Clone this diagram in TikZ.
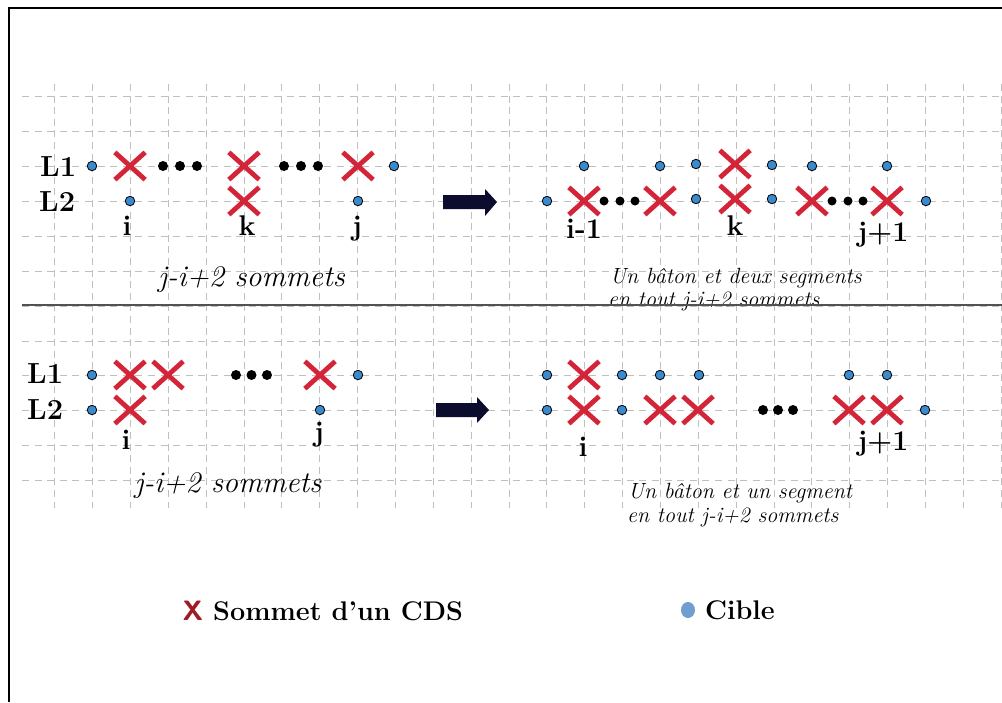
\documentclass[tikz,border=0pt]{standalone}
\usepackage{fontspec}
\usetikzlibrary{shapes.misc,shapes.geometric}
\definecolor{cdsred}{RGB}{212,36,56}
\definecolor{tblue}{RGB}{58,138,206}
\definecolor{legblue}{RGB}{112,158,208}
\definecolor{legred}{RGB}{160,28,34}
\definecolor{arrowblue}{RGB}{12,12,46}
\tikzset{
  gridh/.style={draw=black!25, line width=0.9pt, dash pattern=on 7pt off 5.6pt},
  gridv/.style={draw=black!25, line width=0.9pt, dash pattern=on 7pt off 4.6pt},
  cds/.style={cross out, draw=cdsred, line width=4.8pt, minimum width=25.5pt, minimum height=22.5pt, inner sep=0pt},
  target/.style={circle, draw=black, line width=0.8pt, fill=tblue, minimum size=9.5pt, inner sep=0pt},
  ell/.style={circle, fill=black, minimum size=10pt, inner sep=0pt},
  lab/.style={font=\fontsize{28.5}{34}\selectfont\bfseries, inner sep=0pt, anchor=base},
  rowlab/.style={font=\fontsize{29}{34}\selectfont\bfseries, inner sep=0pt, anchor=base west},
  note/.style={font=\fontsize{30}{36}\selectfont\itshape, inner sep=0pt, anchor=base},
  small/.style={font=\fontsize{22}{26}\selectfont\itshape, inner sep=0pt, anchor=base west},
  legtext/.style={font=\fontsize{27}{32}\selectfont\bfseries, inner sep=0pt, anchor=base west},
  bigarrow/.style={fill=arrowblue},
  frame/.style={draw=black, line width=1.5pt},
  sep/.style={draw=black!68, line width=2pt}
}
\begin{document}
\begin{tikzpicture}[x=1pt, y=-1pt]
\useasboundingbox (0,0) rectangle (1002,702);
\fill[white] (0,0) rectangle (1002,702);
% frame
\draw[frame] (9,702) -- (9,8) -- (1002,8);
% grid
\foreach \n in {0,...,25} \draw[gridv] ({54.7+37.86*\n},84) -- ({54.7+37.86*\n},508);
\foreach \k in {0,...,11} \draw[gridh] (22,{96.7+34.9*\k}) -- (1002,{96.7+34.9*\k});

% ===== top left =====
\node[rowlab] (L1a) at (40,176) {L1};
\node[rowlab] (L2a) at (39,211.5) {L2};
\foreach \x/\y [count=\c] in {92/166,394/166,130/201,358/201} \node[target] (tla\c) at (\x,\y) {};
\foreach \x/\y [count=\c] in {130/166,244/166,358/166,244/201} \node[cds] (xla\c) at (\x,\y) {};
\foreach \x [count=\c] in {163,180,197,284,301,318} \node[ell] (dla\c) at (\x,166) {};
\node[lab] (ia) at (127,235) {i};
\node[lab] (ka) at (247,235) {k};
\node[lab] (ja) at (357,235) {j};
\node[note] (na) at (251.5,286) {j-i+2 sommets};
\fill[bigarrow] (443,195) -- (485,195) -- (485,189) -- (497,202) -- (485,216) -- (485,209) -- (443,209) -- cycle;

% ===== top right =====
\foreach \x/\y [count=\c] in {584/166,660/166,696/164,772/165,812/166,887/166,547/201,696/199,772/199,926/201} \node[target] (tra\c) at (\x,\y) {};
\foreach \x/\y [count=\c] in {735/164,584/201,660/201,735/199,812/201,887/201} \node[cds] (xra\c) at (\x,\y) {};
\foreach \x [count=\c] in {604,620,635,832,848,863} \node[ell, minimum size=9pt] (dra\c) at (\x,201) {};
\node[lab] (ira) at (584,238) {i-1};
\node[lab] (kra) at (735,235) {k};
\node[lab] (jra) at (883,241) {j+1};
\node[small] (sra1) at (610,283) {Un bâton et deux segments};
\node[small] (sra2) at (608,306) {en tout j-i+2 sommets};

% separator
\draw[sep] (22,305) -- (1002,305);

% ===== bottom left =====
\node[rowlab] (L1b) at (27,383) {L1};
\node[rowlab] (L2b) at (27,419) {L2};
\foreach \x/\y [count=\c] in {92/375,358/375,92/410,320/410} \node[target] (tlb\c) at (\x,\y) {};
\foreach \x/\y [count=\c] in {130/375,168/375,320/375,130/410} \node[cds] (xlb\c) at (\x,\y) {};
\foreach \x [count=\c] in {236,251.5,267} \node[ell] (dlb\c) at (\x,375) {};
\node[lab] (ib) at (126,449) {i};
\node[lab] (jb) at (319,441.5) {j};
\node[note] (nb) at (228,492.7) {j-i+2 sommets};
\fill[bigarrow] (436,403) -- (477,403) -- (477,397) -- (489,410) -- (477,423) -- (477,417) -- (436,417) -- cycle;

% ===== bottom right =====
\foreach \x/\y [count=\c] in {547/375,622/375,660/375,699/375,849/375,887/375,547/410,622/410,925/410} \node[target] (trb\c) at (\x,\y) {};
\foreach \x/\y [count=\c] in {584/375,584/410,660/410,698/410,849/410,887/410} \node[cds] (xrb\c) at (\x,\y) {};
\foreach \x [count=\c] in {763,778,793} \node[ell] (drb\c) at (\x,410) {};
\node[lab] (irb) at (583,456.7) {i};
\node[lab] (jrb) at (883,450) {j+1};
\node[small] (srb1) at (628,498) {Un bâton et un segment};
\node[small] (srb2) at (627,522.7) {en tout j-i+2 sommets};

% ===== legend =====
\node[font=\fontsize{28}{32}\selectfont\sffamily\bfseries, text=legred, inner sep=0pt, anchor=base] (legx) at (193,620.5) {X};
\node[legtext] (legcds) at (213,620.5) {Sommet d’un CDS};
\node[ellipse, fill=legblue, minimum width=14pt, minimum height=16pt, inner sep=0pt] (legdot) at (688,610) {};
\node[legtext] (legcible) at (705,619.5) {Cible};
\end{tikzpicture}
\end{document}
